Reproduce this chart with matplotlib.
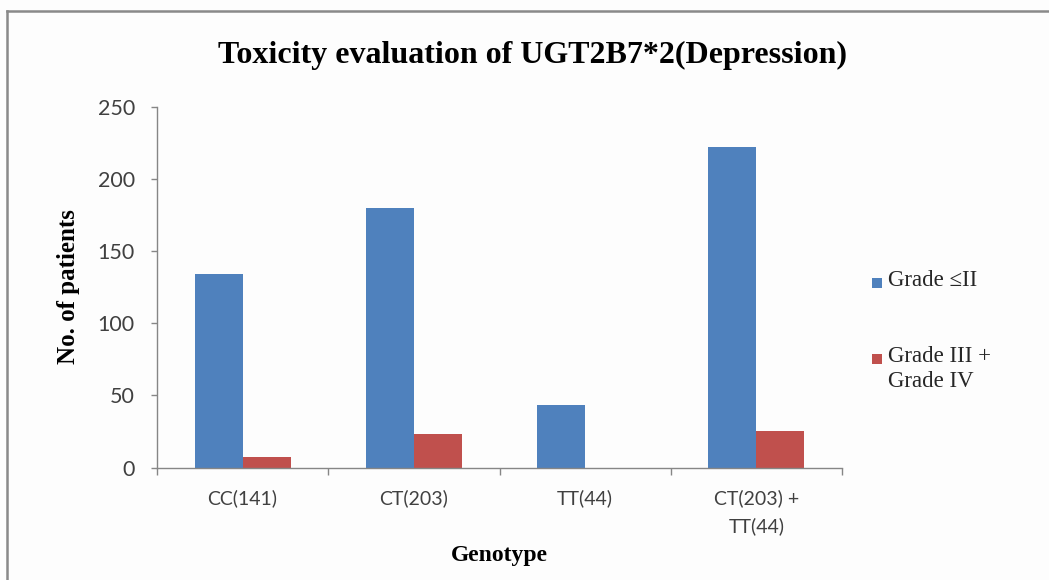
import matplotlib
matplotlib.use("Agg")
import matplotlib.pyplot as plt
from matplotlib.lines import Line2D
from matplotlib.patches import Rectangle
import numpy as np

# Patient counts per genotype and toxicity grade
genotypes = ["CC(141)", "CT(203)", "TT(44)", "CT(203) +\nTT(44)"]
grade_low = [134, 180, 43, 222]        # Grade <= II
grade_high = [7, 23, 0, 25]            # Grade III + Grade IV
series_labels = ["Grade \u2264II", "Grade III +\nGrade IV"]
yticks = [0, 50, 100, 150, 200, 250]

blue = "#4F81BD"
red = "#C0504D"
axis_gray = "#868686"
serif = ["Liberation Serif", "DejaVu Serif"]
sans = ["Lato", "DejaVu Sans"]

W, H = 1049, 580
fig = plt.figure(figsize=(W / 100, H / 100), dpi=100)
fig.patch.set_facecolor("#fdfdfd")

ax = fig.add_axes([157 / W, 1 - 467.5 / H, (842 - 157) / W, (467.5 - 107) / H])
ax.set_facecolor("none")

x = np.arange(len(genotypes))
bw = 0.28
ax.bar(x - bw / 2, grade_low, bw, color=blue, label=series_labels[0])
ax.bar(x + bw / 2, grade_high, bw, color=red, label=series_labels[1])

ax.set_xlim(-0.5, len(genotypes) - 0.5)
ax.set_ylim(0, 250)
ax.set_yticks(yticks)

for side in ["top", "right"]:
    ax.spines[side].set_visible(False)
for side in ["left", "bottom"]:
    ax.spines[side].set_color(axis_gray)
    ax.spines[side].set_linewidth(1.0)

ax.tick_params(axis="y", direction="out", length=4, width=1, color=axis_gray,
               pad=12, labelsize=15.5, labelcolor="#404040")
for t in ax.get_yticklabels():
    t.set_family(sans)

ax.set_xticks(x)
ax.set_xticklabels(genotypes, family=sans, fontsize=14, color="#404040",
                   linespacing=1.65, va="top")
ax.tick_params(axis="x", which="major", length=0, pad=16)
ax.set_xticks(np.arange(-0.5, len(genotypes)), minor=True)
ax.tick_params(axis="x", which="minor", direction="out", length=5, width=1,
               color=axis_gray)

# Title and axis titles
fig.text(532 / W, 1 - 55 / H, "Toxicity evaluation of UGT2B7*2(Depression)",
         family=serif, fontweight="bold", fontsize=23, ha="center", va="center")
fig.text(68 / W, 1 - 287 / H, "No. of patients", family=serif,
         fontweight="bold", fontsize=18, rotation=90, ha="center", va="center")
fig.text(499 / W, 1 - 556 / H, "Genotype", family=serif, fontweight="bold",
         fontsize=17, ha="center", va="center")

# Legend: small colour squares with serif labels beside them
legend_rows = [(blue, series_labels[0], 283), (red, series_labels[1], 359)]
sq = 10
for color, label, yc in legend_rows:
    fig.add_artist(Rectangle(((872) / W, 1 - (yc + sq / 2) / H), sq / W, sq / H,
                             facecolor=color, edgecolor="none",
                             transform=fig.transFigure))
    fig.text(888 / W, 1 - (yc - 13) / H, label, family=serif, fontsize=16.5,
             color="#262626", ha="left", va="top", linespacing=1.25)

# Outer chart frame
fig.add_artist(Line2D([7 / W, 1], [1 - 11 / H, 1 - 11 / H], color="#8a8a8a",
                      lw=1.8, transform=fig.transFigure))
fig.add_artist(Line2D([7 / W, 7 / W], [0, 1 - 11 / H], color="#8a8a8a",
                      lw=1.8, transform=fig.transFigure))

fig.savefig("out.png", dpi=100, facecolor=fig.get_facecolor())
